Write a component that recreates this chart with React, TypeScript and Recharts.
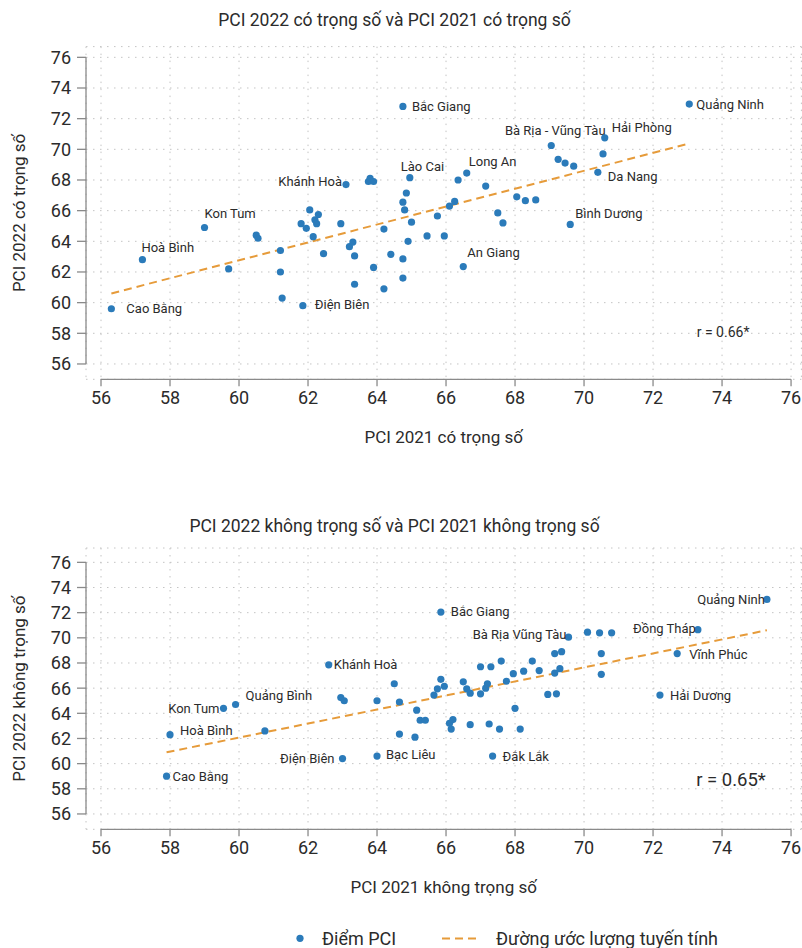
import React from "react";
import {
  ScatterChart,
  Scatter,
  XAxis,
  YAxis,
  CartesianGrid,
  ReferenceLine,
  ReferenceDot,
} from "recharts";

const FONT = "Roboto, 'Noto Sans', sans-serif";
const BLUE = "#2b7bba";
const ORANGE = "#e69b3a";
const AXIS = "#8a8a8a";
const INK = "#2b2b2b";

const TICKS = [56, 58, 60, 62, 64, 66, 68, 70, 72, 74, 76];

// ---- PCI có trọng số ----
const weighted2021 = [
  56.3, 57.2, 59.0, 59.7, 60.5, 60.55, 61.2, 61.2, 61.25, 61.8, 61.95, 62.05, 62.15, 62.2, 62.25, 62.3,
  62.45, 61.85, 62.95, 63.1, 63.2, 63.3, 63.35, 63.35, 63.75, 63.8, 63.9, 63.9, 64.2, 64.2, 64.4, 64.95,
  64.85, 64.75, 64.8, 65.0, 64.9, 64.75, 64.75, 64.75, 65.45, 65.95, 65.75, 66.1, 66.25, 66.35, 66.6,
  67.15, 67.5, 67.65, 66.5, 68.05, 68.3, 68.6, 69.05, 69.25, 69.45, 69.7, 70.4, 70.55, 70.6, 69.6, 73.05,
];
const weighted2022 = [
  59.6, 62.8, 64.9, 62.2, 64.4, 64.2, 63.4, 62.0, 60.3, 65.15, 64.85, 66.05, 64.3, 65.4, 65.15, 65.75,
  63.2, 59.8, 65.15, 67.7, 63.65, 63.95, 63.05, 61.2, 67.9, 68.1, 67.9, 62.3, 64.8, 60.9, 63.15, 68.15,
  67.15, 66.55, 66.05, 65.25, 64.0, 62.85, 61.6, 72.8, 64.35, 64.35, 65.65, 66.3, 66.6, 68.0, 68.45,
  67.6, 65.85, 65.2, 62.35, 66.9, 66.65, 66.7, 70.25, 69.35, 69.1, 68.9, 68.5, 69.7, 70.75, 65.1, 72.95,
];
const weightedNames = [
  "Cao Bằng", "Hoà Bình", "Kon Tum", "", "", "", "", "", "", "", "", "", "", "", "", "",
  "", "Điện Biên", "", "Khánh Hoà", "", "", "", "", "", "", "", "", "", "", "", "Lào Cai",
  "", "", "", "", "", "", "", "Bắc Giang", "", "", "", "", "", "", "Long An",
  "", "", "", "An Giang", "", "", "", "Bà Rịa - Vũng Tàu", "", "", "", "Da Nang", "", "Hải Phòng", "Bình Dương", "Quảng Ninh",
];
const weightedTrend = [
  { x: 56.3, y: 60.6 },
  { x: 73.0, y: 70.35 },
];

// ---- PCI không trọng số ----
const plain2021 = [
  57.9, 58.0, 59.55, 59.9, 60.75, 63.0, 64.0, 62.6, 62.95, 63.05, 64.0, 64.5, 64.65, 64.65, 65.1, 65.15,
  65.25, 65.4, 65.65, 65.75, 65.85, 65.95, 65.85, 66.1, 66.15, 66.2, 66.5, 66.6, 66.7, 66.7, 67.0, 67.0,
  67.15, 67.2, 67.3, 67.25, 67.55, 67.6, 67.75, 67.95, 68.0, 68.15, 68.25, 68.5, 68.7, 68.95, 69.15,
  69.15, 69.2, 69.3, 69.35, 69.55, 70.1, 70.45, 70.8, 70.5, 70.5, 67.35, 73.3, 72.7, 72.2, 75.3,
];
const plain2022 = [
  59.0, 62.3, 64.4, 64.7, 62.6, 60.4, 60.6, 67.85, 65.25, 65.0, 65.0, 66.35, 64.9, 62.35, 62.1, 64.25,
  63.45, 63.45, 65.45, 65.95, 66.7, 66.15, 72.05, 63.2, 62.75, 63.5, 66.5, 65.95, 65.6, 63.1, 65.55, 67.7,
  66.0, 66.35, 67.7, 63.15, 62.75, 68.15, 66.55, 67.15, 64.4, 62.75, 67.35, 68.15, 67.4, 65.5, 67.2,
  68.75, 65.55, 67.55, 68.9, 70.05, 70.45, 70.4, 70.4, 68.75, 67.1, 60.6, 70.65, 68.75, 65.45, 73.05,
];
const plainNames = [
  "Cao Bằng", "Hoà Bình", "Kon Tum", "Quảng Bình", "", "Điện Biên", "Bạc Liêu", "Khánh Hoà", "", "", "", "", "", "", "", "",
  "", "", "", "", "", "", "Bắc Giang", "", "", "", "", "", "", "", "", "",
  "", "", "", "", "", "", "", "", "", "", "", "", "", "", "",
  "", "", "", "", "Bà Rịa Vũng Tàu", "", "", "", "", "", "Đắk Lắk", "Đồng Tháp", "Vĩnh Phúc", "Hải Dương", "Quảng Ninh",
];
const plainTrend = [
  { x: 57.9, y: 60.9 },
  { x: 75.3, y: 70.6 },
];

// label offsets from the dot: [dx, dy, anchor]
type Place = [number, number, "start" | "middle" | "end"];
const weightedPlace: Record<string, Place> = {
  "Cao Bằng": [15, 0, "start"],
  "Hoà Bình": [-1, -12, "start"],
  "Kon Tum": [0, -14, "start"],
  "Khánh Hoà": [-4, -3, "end"],
  "Điện Biên": [12, -1, "start"],
  "Lào Cai": [-9, -11, "start"],
  "Bắc Giang": [9, 0, "start"],
  "Long An": [2, -12, "start"],
  "Bà Rịa - Vũng Tàu": [4, -15, "middle"],
  "Hải Phòng": [7, -10, "start"],
  "Da Nang": [10, 4, "start"],
  "Bình Dương": [5, -11, "start"],
  "An Giang": [4, -14, "start"],
  "Quảng Ninh": [7, 0, "start"],
};
const plainPlace: Record<string, Place> = {
  "Cao Bằng": [6, 0, "start"],
  "Hoà Bình": [10, -4, "start"],
  "Kon Tum": [-4, 0, "end"],
  "Quảng Bình": [10, -9, "start"],
  "Khánh Hoà": [5, 0, "start"],
  "Điện Biên": [-8, 0, "end"],
  "Bạc Liêu": [9, -2, "start"],
  "Bắc Giang": [10, -1, "start"],
  "Bà Rịa Vũng Tàu": [-2, -3, "end"],
  "Đắk Lắk": [10, 0, "start"],
  "Đồng Tháp": [-2, -1, "end"],
  "Vĩnh Phúc": [12, 1, "start"],
  "Hải Dương": [10, 0, "start"],
  "Quảng Ninh": [-2, 0, "end"],
};

const build = (xs: number[], ys: number[], names: string[]) =>
  xs.map((x, i) => ({ x, y: ys[i], name: names[i] }));

interface PanelProps {
  title: string;
  xLabel: string;
  yLabel: string;
  data: { x: number; y: number; name: string }[];
  trend: { x: number; y: number }[];
  place: Record<string, Place>;
  rText: string;
  rPos: { x: number; y: number };
  rSize: number;
  top: number;
  height: number;
  marginTop: number;
  marginBottom: number;
  yDomain: [number, number];
  titleY: number;
}

const X_DOMAIN: [number, number] = [55.565, 76.3];

function Panel(p: PanelProps) {
  const dot = (props: any) => {
    const { cx, cy, payload } = props;
    const pl = payload.name ? p.place[payload.name] : null;
    return (
      <g>
        <circle cx={cx} cy={cy} r={3.6} fill={BLUE} />
        {pl && (
          <text
            x={cx + pl[0]}
            y={cy + pl[1]}
            textAnchor={pl[2]}
            dominantBaseline="central"
            fontSize={13}
            fontFamily={FONT}
            fill={INK}
          >
            {payload.name}
          </text>
        )}
      </g>
    );
  };

  return (
    <div style={{ position: "absolute", left: 0, top: p.top, width: 802, height: p.height }}>
      <div
        style={{
          position: "absolute",
          left: 0,
          width: 789,
          top: p.titleY - 12,
          lineHeight: "24px",
          textAlign: "center",
          fontFamily: FONT,
          fontSize: 17.5,
          color: INK,
        }}
      >
        {p.title}
      </div>
      <ScatterChart
        width={802}
        height={p.height}
        margin={{ top: p.marginTop, right: 0.6, bottom: p.marginBottom, left: 0 }}
      >
        <CartesianGrid stroke="#c4c4c4" strokeDasharray="1.5 5.5" />
        <XAxis
          type="number"
          dataKey="x"
          domain={X_DOMAIN}
          allowDataOverflow
          ticks={TICKS}
          interval={0}
          height={70}
          axisLine={false}
          tickSize={7}
          tickMargin={5}
          tickLine={{ stroke: AXIS, strokeWidth: 1.3 }}
          tick={{ fill: INK, fontSize: 18, fontFamily: FONT }}
          label={{
            value: p.xLabel,
            position: "insideBottom",
            offset: 6.8,
            fill: INK,
            fontSize: 17,
            fontFamily: FONT,
          }}
        />
        <YAxis
          type="number"
          dataKey="y"
          domain={p.yDomain}
          allowDataOverflow
          ticks={TICKS}
          interval={0}
          width={86}
          axisLine={false}
          tickSize={9}
          tickMargin={6}
          tickLine={{ stroke: AXIS, strokeWidth: 1.3 }}
          tick={{ fill: INK, fontSize: 18, fontFamily: FONT }}
          label={{
            value: p.yLabel,
            angle: -90,
            position: "insideLeft",
            offset: 18.5,
            fill: INK,
            fontSize: 17,
            fontFamily: FONT,
            style: { textAnchor: "middle" },
          }}
        />
        <ReferenceLine
          segment={[{ x: 56, y: p.yDomain[0] }, { x: 76, y: p.yDomain[0] }]}
          stroke={AXIS}
          strokeWidth={1.3}
          ifOverflow="visible"
        />
        <ReferenceLine
          segment={[{ x: X_DOMAIN[0], y: 56 }, { x: X_DOMAIN[0], y: 76 }]}
          stroke={AXIS}
          strokeWidth={1.3}
          ifOverflow="visible"
        />
        <Scatter
          data={p.trend}
          line={{ stroke: ORANGE, strokeWidth: 2, strokeDasharray: "8 5" }}
          shape={() => <g />}
          isAnimationActive={false}
        />
        <Scatter data={p.data} shape={dot} isAnimationActive={false} />
        <ReferenceDot
          x={p.rPos.x}
          y={p.rPos.y}
          r={0}
          fill="none"
          stroke="none"
          label={{
            value: p.rText,
            position: "center",
            fill: INK,
            fontSize: p.rSize,
            fontFamily: FONT,
          }}
        />
      </ScatterChart>
    </div>
  );
}

function LegendRow() {
  return (
    <svg style={{ position: "absolute", left: 0, top: 900 }} width={802} height={48}>
      <circle cx={300} cy={38.3} r={3.6} fill={BLUE} />
      <text x={322} y={38.3} dominantBaseline="central" fontSize={18} fontFamily={FONT} fill={INK}>
        Điểm PCI
      </text>
      <line x1={442} x2={477} y1={38.6} y2={38.6} stroke={ORANGE} strokeWidth={2} strokeDasharray="8 5" />
      <text x={496} y={38.3} dominantBaseline="central" fontSize={18} fontFamily={FONT} fill={INK}>
        Đường ước lượng tuyến tính
      </text>
    </svg>
  );
}

export default function App() {
  return (
    <div style={{ position: "absolute", left: 0, top: 0, width: 802, height: 948, background: "#fff", overflow: "hidden" }}>
      <Panel
        title="PCI 2022 có trọng số và PCI 2021 có trọng số"
        xLabel="PCI 2021 có trọng số"
        yLabel="PCI 2022 có trọng số"
        data={build(weighted2021, weighted2022, weightedNames)}
        trend={weightedTrend}
        place={weightedPlace}
        rText="r = 0.66*"
        rPos={{ x: 74.03, y: 58.09 }}
        rSize={14}
        top={0}
        height={470}
        marginTop={46.6}
        marginBottom={20.7}
        yDomain={[55.0, 76.7]}
        titleY={20}
      />
      <Panel
        title="PCI 2022 không trọng số và PCI 2021 không trọng số"
        xLabel="PCI 2021 không trọng số"
        yLabel="PCI 2022 không trọng số"
        data={build(plain2021, plain2022, plainNames)}
        trend={plainTrend}
        place={plainPlace}
        rText="r = 0.65*"
        rPos={{ x: 74.26, y: 58.77 }}
        rSize={18.5}
        top={470}
        height={478}
        marginTop={78}
        marginBottom={48.7}
        yDomain={[54.78, 77.14]}
        titleY={56}
      />
      <LegendRow />
    </div>
  );
}
